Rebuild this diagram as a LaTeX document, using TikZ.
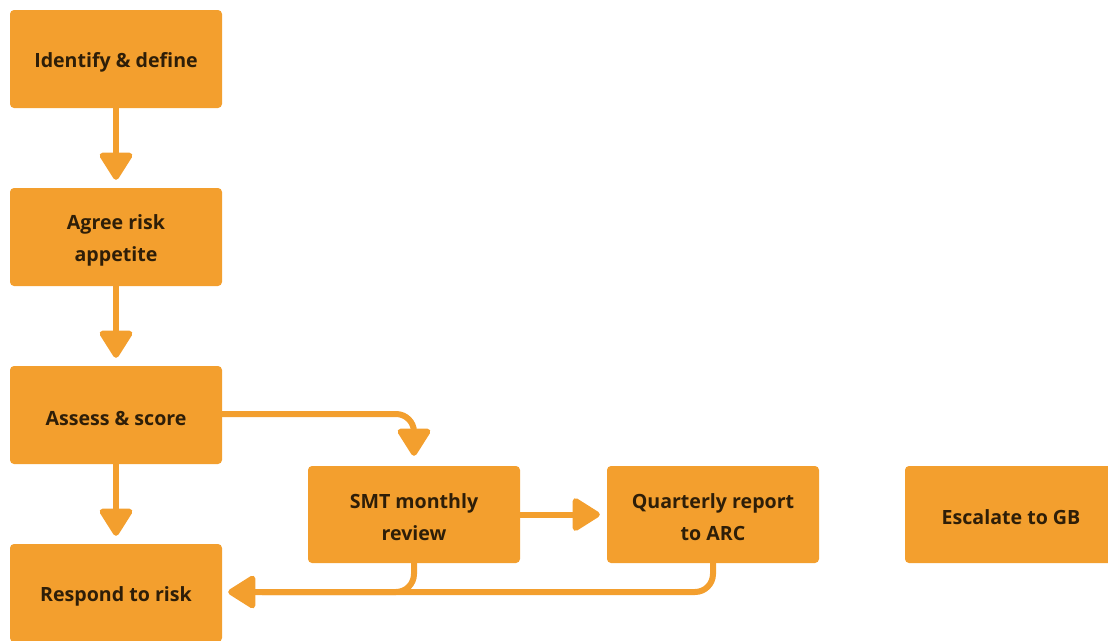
\documentclass[tikz,border=0pt]{standalone}
\usepackage{fontspec}
\setmainfont{Open Sans}
\usetikzlibrary{arrows.meta}
\definecolor{boxfill}{HTML}{F39F2E}
\definecolor{boxtext}{HTML}{2E1E08}
\tikzset{
  stepbox/.style={fill=boxfill, draw=none, rounded corners=4pt, minimum width=212pt, minimum height=98pt,
    inner sep=0pt},
  steptext/.style={inner sep=0pt, align=center, text=boxtext, yshift=-3pt,
    font=\fontsize{19.6}{32}\selectfont\bfseries},
  flow/.style={draw=boxfill, line width=6pt, rounded corners=18pt,
    -{Triangle[width=36pt,length=30pt,round]}},
  plainflow/.style={draw=boxfill, line width=6pt, rounded corners=18pt}
}
\begin{document}
\begin{tikzpicture}[x=1pt,y=-1pt]
\useasboundingbox (0,0) rectangle (1108,640);
\clip (0,0) rectangle (1108,640);
\node[stepbox] (b1) at (116,59) {};
\node[stepbox] (b2) at (116,237) {};
\node[stepbox] (b3) at (116,415) {};
\node[stepbox] (b4) at (116,593) {};
\node[stepbox, minimum height=97pt] (smt) at (414,514.5) {};
\node[stepbox, minimum height=97pt] (q) at (713,514.5) {};
\node[stepbox, minimum height=97pt] (esc) at (1011,514.5) {};
\node[steptext] (t1) at (b1) {Identify \& define};
\node[steptext] (t2) at (b2) {Agree risk\\appetite};
\node[steptext] (t3) at (b3) {Assess \& score};
\node[steptext] (t4) at (b4) {Respond to risk};
\node[steptext] (tsmt) at (smt) {SMT monthly\\review};
\node[steptext] (tq) at (q) {Quarterly report\\to ARC};
\node[steptext] (tesc) at (esc) {Escalate to GB};
\coordinate (c1) at (414,414);
\coordinate (c2) at (414,592);
\coordinate (c3) at (713,592);
\draw[flow, shorten >=8pt] (b1.south) -- (b2.north);
\draw[flow, shorten >=8pt] (b2.south) -- (b3.north);
\draw[flow, shorten >=8pt] (b3.south) -- (b4.north);
\draw[flow, shorten >=10pt] (b3.east |- c1) -- (c1) -- (smt.north);
\draw[flow, shorten >=7pt] (smt.east) -- (q.west);
\draw[plainflow] (smt.south) -- (c2) -- ([xshift=40pt]b4.east |- c2);
\draw[flow, shorten >=6pt] (q.south) -- (c3) -- (b4.east |- c3);
\end{tikzpicture}
\end{document}
